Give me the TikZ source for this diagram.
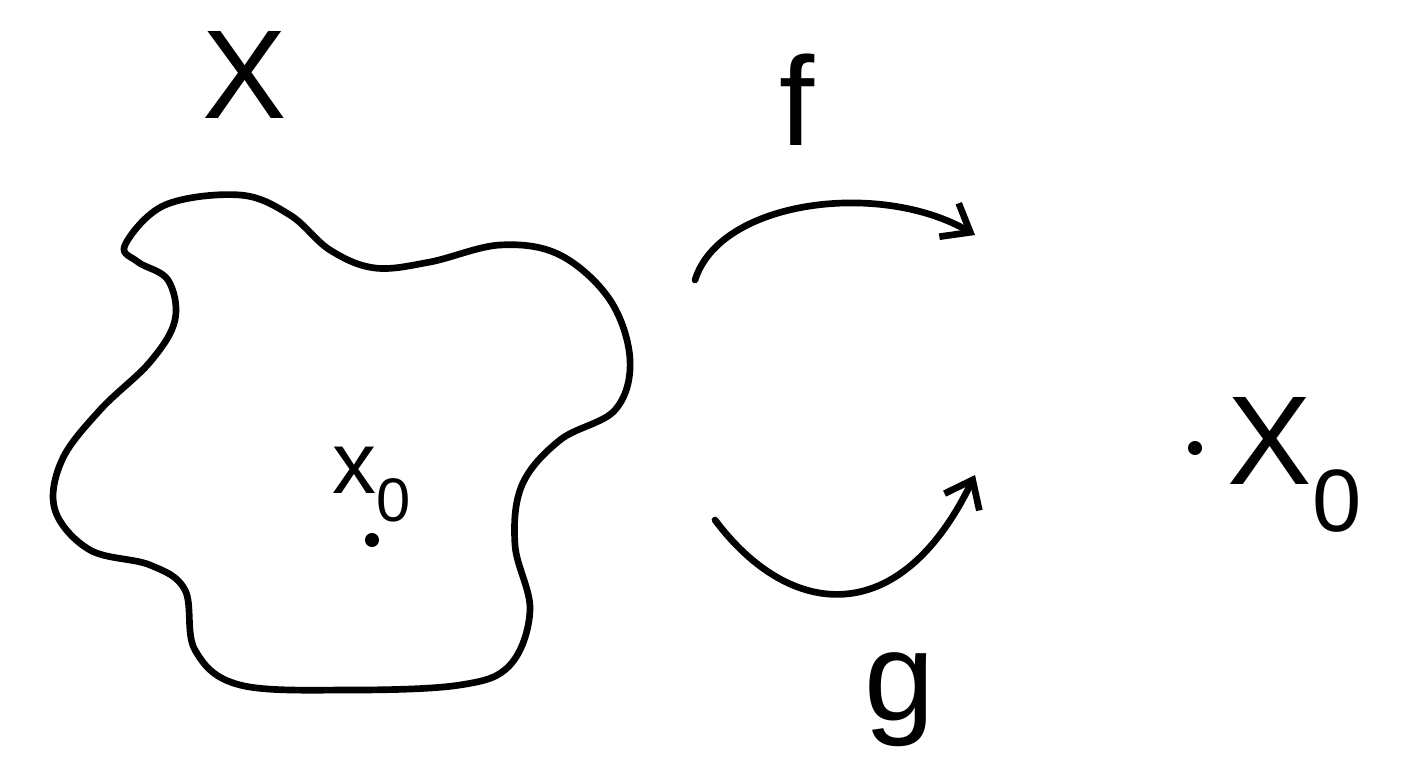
\documentclass[tikz,border=0pt]{standalone}
\usepackage{fontspec}
\setmainfont{Liberation Sans}
\usetikzlibrary{arrows.meta}
\begin{document}
\begin{tikzpicture}[x=0.02cm,y=-0.02cm,
  ink/.style={line width=3.8pt,line cap=round,line join=round,black},
  lbl/.style={inner sep=0pt,font=\fontsize{72}{80}\selectfont},
  pt/.style={circle,fill=black,inner sep=0pt,minimum size=8pt}]
\useasboundingbox (0,0) rectangle (1425,762);
\draw[ink] plot[smooth cycle,tension=0.6] coordinates {
 (125,245) (165,205) (240,195) (290,215) (330,250) (375,268) (430,262)
 (500,245) (560,255) (610,300) (630,360) (615,410) (560,440) (522,485)
 (515,545) (530,610) (510,665) (460,685) (350,690) (240,685) (195,650)
 (185,590) (150,565) (90,550) (55,510) (62,460) (100,410) (150,362)
 (175,320) (168,280) (138,262)};
\node[lbl] (X) at (245,75) {X};
\node[lbl,font=\fontsize{50}{56}\selectfont] (x0) at (372,485) {x$_{\mathrm{0}}$};
\node[pt] (p) at (372,540) {};
\node[pt] (q) at (1195,448) {};
\node[lbl] (X0) at (1295,465) {X$_{\mathrm{0}}$};
\coordinate (fs) at (695,280);
\coordinate (fe) at (975,235);
\draw[ink,-{Straight Barb[length=14pt,width=22pt,line width=3.8pt]}] (fs) .. controls (720,200) and (880,180) .. (fe);
\node[lbl] (f) at (797,100) {f};
\coordinate (gs) at (715,520);
\coordinate (ge) at (975,475);
\draw[ink,-{Straight Barb[length=14pt,width=22pt,line width=3.8pt]}] (gs) .. controls (790,620) and (900,630) .. (ge);
\node[lbl] (g) at (900,700) {g};
\end{tikzpicture}
\end{document}
